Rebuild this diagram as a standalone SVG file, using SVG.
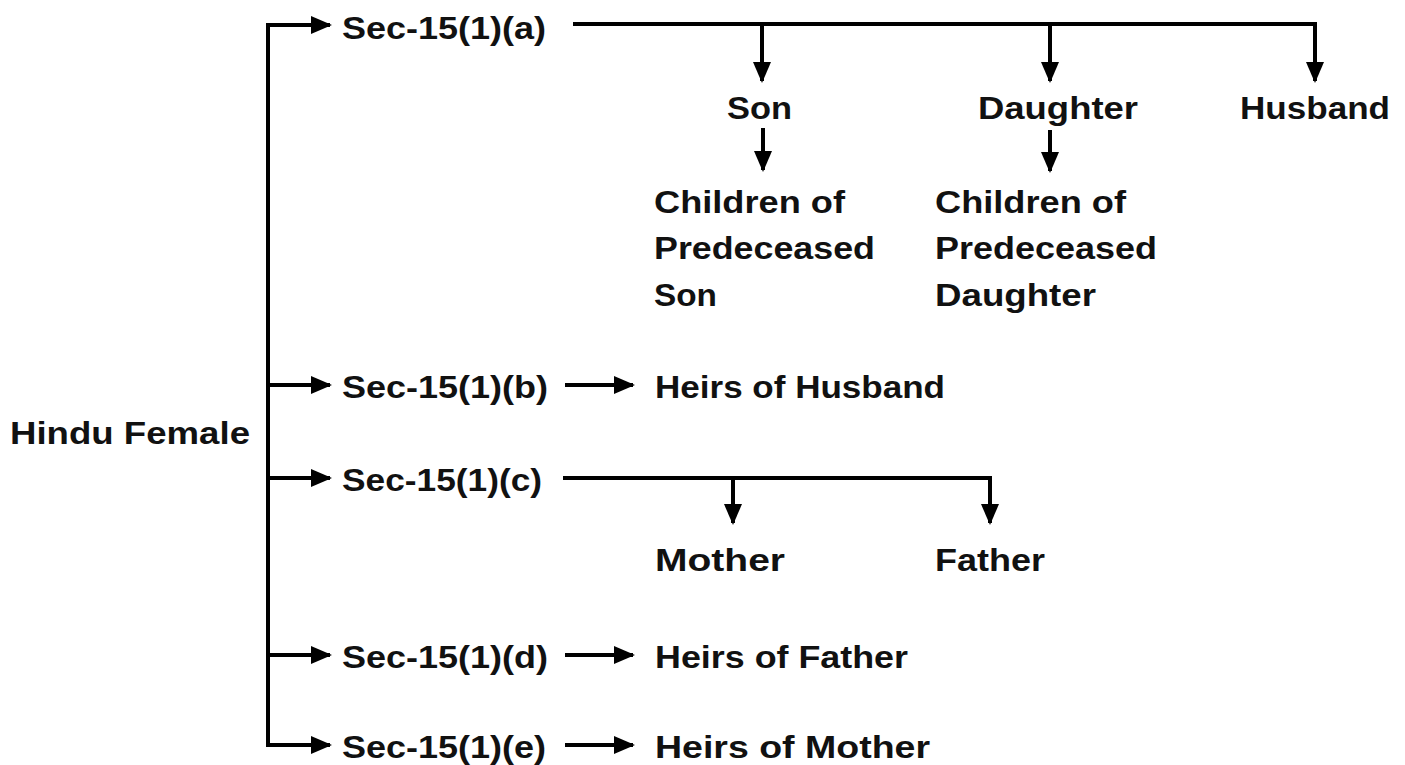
<svg xmlns="http://www.w3.org/2000/svg" width="1405" height="765" viewBox="0 0 1405 765">
<style>
text{font-family:"Liberation Sans",Arial,sans-serif;font-weight:bold;font-size:32px;fill:#111}
.c line,.c path{stroke:#000;stroke-width:4;fill:none}
</style>
<defs>
<marker id="ah" markerUnits="userSpaceOnUse" markerWidth="24" markerHeight="20" refX="19" refY="9" orient="auto">
<path d="M0,0 L21,9 L0,18 z" fill="#000"/>
</marker>
</defs>
<rect width="1405" height="765" fill="#fff"/>
<g class="c" id="connectors">
<line x1="268" y1="25" x2="268" y2="745"/>
<line x1="266" y1="25" x2="330" y2="25" marker-end="url(#ah)"/>
<line x1="268" y1="385" x2="330" y2="385" marker-end="url(#ah)"/>
<line x1="268" y1="478" x2="330" y2="478" marker-end="url(#ah)"/>
<line x1="268" y1="655" x2="330" y2="655" marker-end="url(#ah)"/>
<line x1="266" y1="745" x2="330" y2="745" marker-end="url(#ah)"/>
<line x1="573" y1="24" x2="1317" y2="24"/>
<line x1="762" y1="24" x2="762" y2="81" marker-end="url(#ah)"/>
<line x1="1050" y1="24" x2="1050" y2="81" marker-end="url(#ah)"/>
<line x1="1315" y1="24" x2="1315" y2="81" marker-end="url(#ah)"/>
<line x1="763" y1="128" x2="763" y2="170" marker-end="url(#ah)"/>
<line x1="1050" y1="130" x2="1050" y2="171" marker-end="url(#ah)"/>
<line x1="565" y1="385" x2="633" y2="385" marker-end="url(#ah)"/>
<line x1="563" y1="478" x2="992" y2="478"/>
<line x1="733" y1="478" x2="733" y2="523" marker-end="url(#ah)"/>
<line x1="990" y1="478" x2="990" y2="523" marker-end="url(#ah)"/>
<line x1="565" y1="655" x2="633" y2="655" marker-end="url(#ah)"/>
<line x1="565" y1="745" x2="633" y2="745" marker-end="url(#ah)"/>
</g>
<g id="hindu-female"><text x="10" y="444" textLength="240" lengthAdjust="spacingAndGlyphs">Hindu Female</text></g>
<g id="sec-a"><text x="342" y="39" textLength="204" lengthAdjust="spacingAndGlyphs">Sec-15(1)(a)</text></g>
<g id="sec-b"><text x="342" y="398" textLength="206" lengthAdjust="spacingAndGlyphs">Sec-15(1)(b)</text></g>
<g id="sec-c"><text x="342" y="491" textLength="200" lengthAdjust="spacingAndGlyphs">Sec-15(1)(c)</text></g>
<g id="sec-d"><text x="342" y="668" textLength="206" lengthAdjust="spacingAndGlyphs">Sec-15(1)(d)</text></g>
<g id="sec-e"><text x="342" y="758" textLength="204" lengthAdjust="spacingAndGlyphs">Sec-15(1)(e)</text></g>
<g id="son"><text x="727" y="119" textLength="65" lengthAdjust="spacingAndGlyphs">Son</text></g>
<g id="daughter"><text x="978" y="119" textLength="160" lengthAdjust="spacingAndGlyphs">Daughter</text></g>
<g id="husband"><text x="1240" y="119" textLength="150" lengthAdjust="spacingAndGlyphs">Husband</text></g>
<g id="children-son">
<text x="654" y="213" textLength="191" lengthAdjust="spacingAndGlyphs">Children of</text>
<text x="654" y="259" textLength="221" lengthAdjust="spacingAndGlyphs">Predeceased</text>
<text x="654" y="306" textLength="63" lengthAdjust="spacingAndGlyphs">Son</text>
</g>
<g id="children-daughter">
<text x="935" y="213" textLength="191" lengthAdjust="spacingAndGlyphs">Children of</text>
<text x="935" y="259" textLength="222" lengthAdjust="spacingAndGlyphs">Predeceased</text>
<text x="935" y="306" textLength="161" lengthAdjust="spacingAndGlyphs">Daughter</text>
</g>
<g id="heirs-husband"><text x="655" y="398" textLength="290" lengthAdjust="spacingAndGlyphs">Heirs of Husband</text></g>
<g id="mother"><text x="655" y="571" textLength="130" lengthAdjust="spacingAndGlyphs">Mother</text></g>
<g id="father"><text x="935" y="571" textLength="110" lengthAdjust="spacingAndGlyphs">Father</text></g>
<g id="heirs-father"><text x="655" y="668" textLength="253" lengthAdjust="spacingAndGlyphs">Heirs of Father</text></g>
<g id="heirs-mother"><text x="655" y="758" textLength="275" lengthAdjust="spacingAndGlyphs">Heirs of Mother</text></g>
</svg>
